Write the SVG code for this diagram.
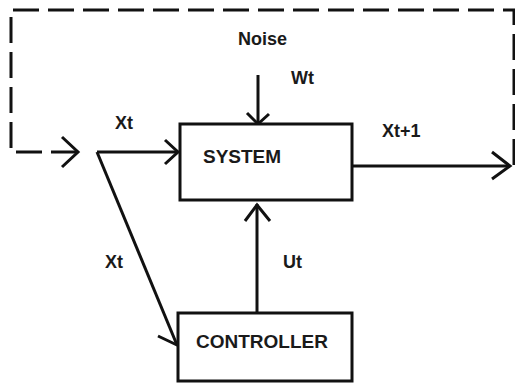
<svg xmlns="http://www.w3.org/2000/svg" width="515" height="383" viewBox="0 0 515 383">
  <style>
    .ln { fill: none; stroke: #111; stroke-width: 3; stroke-linecap: butt; stroke-linejoin: miter; }
    .dash { stroke-dasharray: 26 9; }
    .box { fill: #fff; stroke: #111; stroke-width: 3; }
    .t { font-family: "Liberation Sans", Arial, sans-serif; font-weight: bold; fill: #1a1a1a; }
    .big { font-size: 19px; }
    .lbl { font-size: 18px; }
  </style>
  <rect width="515" height="383" fill="#fff"/>
  <g id="connectors">
    <!-- dashed feedback loop -->
    <path class="ln dash" d="M514 165 L514 10 L11 10 L11 152 L76 152"/>
    <polyline class="ln" points="62,137 78,152 62,167"/>
    <!-- Xt into system -->
    <path class="ln" d="M97 152 L178 152"/>
    <polyline class="ln" points="165,140 178,152 165,164"/>
    <!-- Xt diagonal to controller -->
    <path class="ln" d="M97 152 L177 345"/>
    <polyline class="ln" points="158,336 177,345 184,325"/>
    <!-- Noise into system -->
    <path class="ln" d="M258 75 L258 124"/>
    <polyline class="ln" points="247,113 258,124 269,114"/>
    <!-- Ut control -->
    <path class="ln" d="M257 313 L257 204"/>
    <polyline class="ln" points="245,221 257,205 270,221"/>
    <!-- Output Xt+1 -->
    <path class="ln" d="M352 166 L510 166"/>
    <polyline class="ln" points="492,152 510,166 492,179"/>
  </g>
  <g id="system">
    <rect class="box" x="180" y="124" width="172" height="76"/>
    <text class="t big" x="203" y="163">SYSTEM</text>
  </g>
  <g id="controller">
    <rect class="box" x="178" y="313" width="174" height="68"/>
    <text class="t big" x="196" y="348">CONTROLLER</text>
  </g>
  <g id="labels">
    <text class="t lbl" x="238" y="45">Noise</text>
    <text class="t lbl" x="291" y="84">Wt</text>
    <text class="t lbl" x="115" y="129">Xt</text>
    <text class="t lbl" x="382" y="137">Xt+1</text>
    <text class="t lbl" x="105" y="268">Xt</text>
    <text class="t lbl" x="283" y="268">Ut</text>
  </g>
</svg>
